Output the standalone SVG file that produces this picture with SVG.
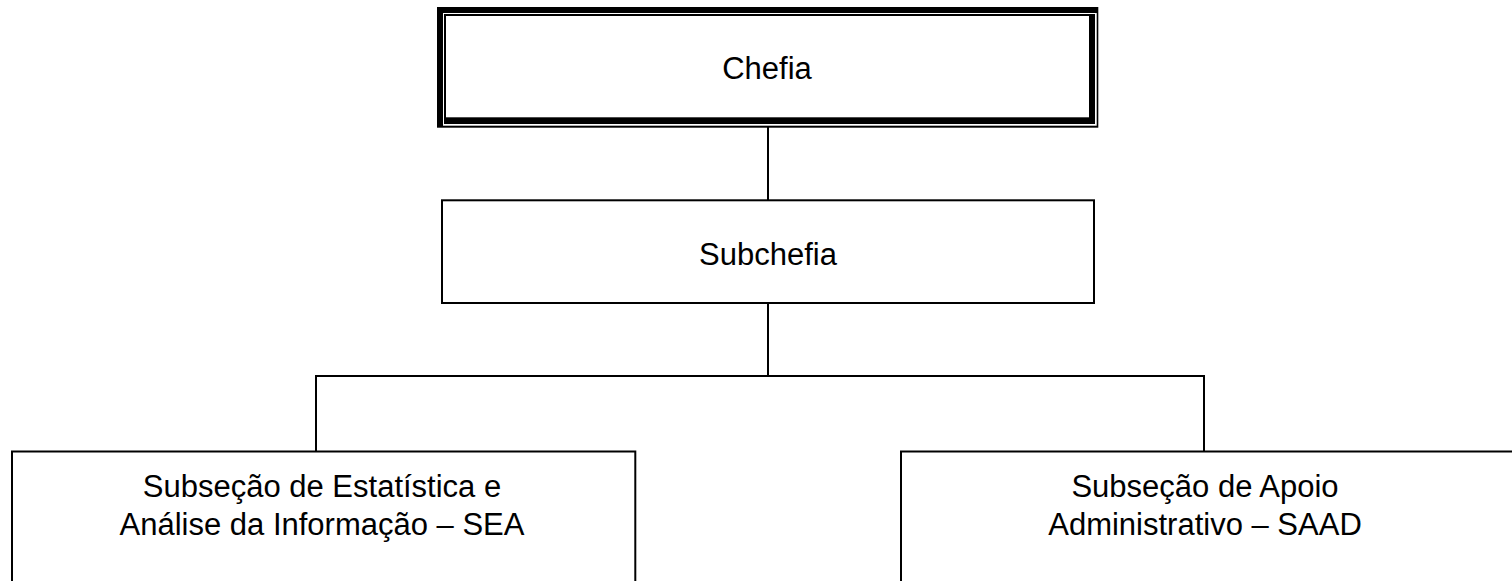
<svg xmlns="http://www.w3.org/2000/svg" width="1512" height="581" viewBox="0 0 1512 581">
<style>
.box{fill:#fff;stroke:#000;stroke-width:2}
.lbl{font-family:"Liberation Sans",Arial,sans-serif;font-size:31px;fill:#000;text-anchor:middle}
.conn line{stroke:#000;stroke-width:2}
</style>
<rect x="0" y="0" width="1512" height="581" fill="#fff"/>
<g class="conn">
<line x1="768" y1="127" x2="768" y2="201"/>
<line x1="768" y1="303" x2="768" y2="376"/>
<line x1="315" y1="376" x2="1205" y2="376"/>
<line x1="316" y1="376" x2="316" y2="451"/>
<line x1="1204" y1="376" x2="1204" y2="451"/>
</g>
<g id="chefia">
<rect x="437" y="7" width="661.3" height="120.7" fill="#000"/>
<rect x="443" y="13" width="653.7" height="112.7" fill="#fff"/>
<rect x="444" y="14" width="651" height="110" fill="#000"/>
<rect x="446" y="16" width="643" height="101.3" fill="#fff"/>
<text class="lbl" x="767" y="79">Chefia</text>
</g>
<g id="subchefia">
<rect class="box" x="442" y="200.3" width="652" height="102.7"/>
<text class="lbl" x="768" y="265">Subchefia</text>
</g>
<g id="sea">
<rect class="box" x="12" y="451.5" width="623.3" height="140"/>
<text class="lbl" x="322" y="497">Subseção de Estatística e</text>
<text class="lbl" x="322" y="535">Análise da Informação – SEA</text>
</g>
<g id="saad">
<rect class="box" x="901" y="451.5" width="620" height="140"/>
<text class="lbl" x="1205" y="497">Subseção de Apoio</text>
<text class="lbl" x="1205" y="535">Administrativo – SAAD</text>
</g>
</svg>
